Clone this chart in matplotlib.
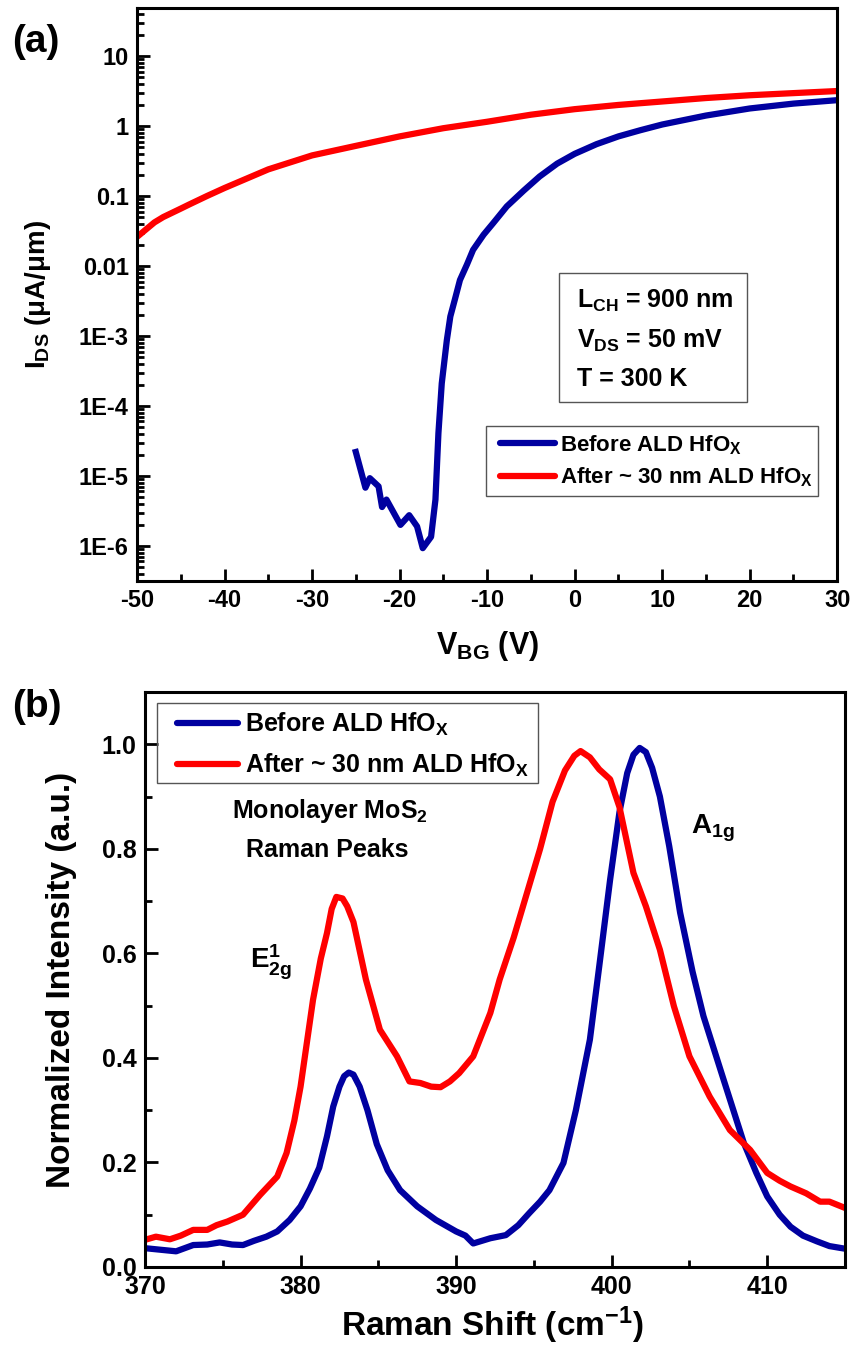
import numpy as np
import matplotlib
matplotlib.use('Agg')
import matplotlib.pyplot as plt
from matplotlib.ticker import FixedLocator, FixedFormatter, LogLocator, MultipleLocator, NullFormatter
from matplotlib.patches import Rectangle

plt.rcParams['font.family'] = ['Liberation Sans', 'DejaVu Sans']
plt.rcParams['font.weight'] = 'bold'
plt.rcParams['axes.unicode_minus'] = False
plt.rcParams['mathtext.fontset'] = 'custom'
plt.rcParams['mathtext.rm'] = 'Liberation Sans:bold'
plt.rcParams['mathtext.it'] = 'Liberation Sans:bold'
plt.rcParams['mathtext.bf'] = 'Liberation Sans:bold'
plt.rcParams['mathtext.default'] = 'rm'

BLUE = '#0000a0'
RED = '#ff0000'

# (a) transfer curves, I_DS in uA/um
vbg_before = [-25, -23.9, -23.4, -22.4, -22.0, -21.5, -19.9, -18.9, -18.0, -17.35, -16.4,
              -15.9, -15.56, -15.18, -14.6, -14.2, -13.66, -13.1, -12.3, -11.6, -10.4, -9.3,
              -7.75, -5.8, -4, -2.0, 0, 2.5, 5, 7.5, 10, 15, 20, 25, 30]
ids_before = [2.2e-5, 6.8e-6, 9.3e-6, 7.1e-6, 3.6e-6, 4.6e-6, 2.0e-6, 2.75e-6, 1.9e-6, 9.3e-7, 1.35e-6,
              4.6e-6, 4.1e-5, 2.1e-4, 8.7e-4, 1.9e-3, 3.4e-3, 6.3e-3, 0.0105, 0.017, 0.028, 0.041,
              0.071, 0.12, 0.19, 0.29, 0.40, 0.55, 0.71, 0.87, 1.05, 1.41, 1.78, 2.09, 2.34]
vbg_after = [-50, -48, -47, -45, -44, -42, -40, -35, -30, -25, -20, -15, -10, -5, 0, 5, 10, 15, 20, 25, 30]
ids_after = [0.026, 0.042, 0.050, 0.066, 0.076, 0.10, 0.13, 0.24, 0.38, 0.52, 0.71, 0.93, 1.15, 1.45,
             1.74, 2.0, 2.24, 2.51, 2.75, 2.95, 3.16]
ids_ticks = [1e-6, 1e-5, 1e-4, 1e-3, 0.01, 0.1, 1, 10]
ids_labels = ['1E-6', '1E-5', '1E-4', '1E-3', '0.01', '0.1', '1', '10']

# (b) Raman spectra
shift_before = [370.0, 371.0, 372.0, 373.1, 374.0, 374.8, 375.6, 376.3, 377.0, 377.8, 378.5, 379.3,
                380.0, 380.6, 381.2, 381.7, 382.1, 382.5, 382.8, 383.1, 383.4, 383.8, 384.3, 384.9,
                385.6, 386.4, 387.5, 388.7, 390.0, 390.6, 391.1, 392.2, 393.2, 394.0, 394.7, 395.4,
                396.0, 396.9, 397.7, 398.6, 399.2, 399.9, 400.5, 401.0, 401.4, 401.8, 402.2, 402.6,
                403.1, 403.7, 404.4, 405.2, 405.9, 407.2, 408.5, 409.3, 410.0, 410.8, 411.5, 412.3,
                413.2, 414.0, 415.0]
int_before = [0.036, 0.033, 0.030, 0.042, 0.043, 0.047, 0.043, 0.042, 0.050, 0.058, 0.068, 0.09,
              0.116, 0.15, 0.19, 0.25, 0.307, 0.345, 0.365, 0.372, 0.368, 0.345, 0.30, 0.235,
              0.185, 0.147, 0.116, 0.09, 0.068, 0.060, 0.045, 0.055, 0.061, 0.08, 0.103, 0.125,
              0.147, 0.199, 0.30, 0.435, 0.575, 0.741, 0.87, 0.945, 0.98, 0.993, 0.985, 0.955,
              0.90, 0.805, 0.678, 0.565, 0.48, 0.358, 0.237, 0.18, 0.135, 0.10, 0.077, 0.06,
              0.049, 0.04, 0.035]
shift_after = [370.0, 370.7, 371.6, 372.3, 373.1, 374.0, 374.6, 375.3, 376.3, 377.4, 378.5, 379.1,
               379.6, 380.0, 380.8, 381.3, 381.7, 382.0, 382.3, 382.7, 383.0, 383.4, 384.2, 385.1,
               386.2, 387.0, 387.7, 388.4, 389.0, 389.6, 390.2, 391.1, 392.2, 392.8, 393.7, 395.0,
               395.4, 396.2, 397.0, 397.6, 398.0, 398.6, 399.2, 399.9, 400.5, 401.4, 402.2, 403.1,
               404.0, 405.0, 406.3, 407.6, 408.9, 410.0, 410.8, 411.5, 412.5, 413.4, 414.0, 415.0]
int_after = [0.052, 0.058, 0.053, 0.06, 0.071, 0.071, 0.08, 0.087, 0.10, 0.138, 0.173, 0.218,
             0.28, 0.345, 0.511, 0.59, 0.639, 0.685, 0.708, 0.705, 0.69, 0.66, 0.55, 0.454,
             0.403, 0.355, 0.352, 0.345, 0.344, 0.355, 0.371, 0.403, 0.486, 0.55, 0.63, 0.76,
             0.80, 0.89, 0.95, 0.978, 0.987, 0.975, 0.952, 0.933, 0.88, 0.754, 0.69, 0.607,
             0.499, 0.403, 0.326, 0.262, 0.224, 0.18, 0.165, 0.154, 0.141, 0.125, 0.125, 0.113]

lab_before = 'Before ALD HfO$_X$'
lab_after = 'After ~ 30 nm ALD HfO$_X$'

fig = plt.figure(figsize=(8.55, 13.59), dpi=100)
ax1 = fig.add_axes([0.1602, 0.5725, 0.819, 0.4216])
ax2 = fig.add_axes([0.1696, 0.0677, 0.8187, 0.4231])

lw = 4.5
ax1.plot(vbg_before, ids_before, color=BLUE, lw=lw, label=lab_before, solid_joinstyle='round')
ax1.plot(vbg_after, ids_after, color=RED, lw=lw, label=lab_after, solid_joinstyle='round')
ax1.set_yscale('log')
ax1.set_xlim(-50, 30)
ax1.set_ylim(3.16e-7, 48.5)
ax1.yaxis.set_major_locator(FixedLocator(ids_ticks))
ax1.yaxis.set_major_formatter(FixedFormatter(ids_labels))
ax1.yaxis.set_minor_locator(LogLocator(base=10, subs=np.arange(2, 10), numticks=20))
ax1.yaxis.set_minor_formatter(NullFormatter())
ax1.xaxis.set_major_locator(MultipleLocator(10))
ax1.xaxis.set_minor_locator(MultipleLocator(5))
ax1.set_xlabel('V$_{BG}$ (V)', fontsize=22, fontweight='bold')
ax1.set_ylabel('I$_{DS}$ (μA/μm)', fontsize=20, fontweight='bold')
ax1.xaxis.set_label_coords(0.5, -0.083)
ax1.yaxis.set_label_coords(-0.12, 0.5)

ax1.add_patch(Rectangle((0.603, 0.312), 0.268, 0.2255, transform=ax1.transAxes,
                        fill=False, edgecolor='#555555', lw=1.0))
for ty, s in [(0.4764, 'L$_{CH}$ = 900 nm'), (0.4066, 'V$_{DS}$ = 50 mV'), (0.340, 'T = 300 K')]:
    ax1.text(0.629, ty, s, transform=ax1.transAxes, fontsize=18, fontweight='bold',
             ha='left', va='baseline')

ax1.add_patch(Rectangle((0.4986, 0.148), 0.4743, 0.1222, transform=ax1.transAxes,
                        fill=False, edgecolor='#555555', lw=1.0, zorder=5))
ax1.legend(loc='upper left', bbox_to_anchor=(0.5186, 0.258), borderaxespad=0,
           fontsize=16, handlelength=2.47, handletextpad=0.22, labelspacing=0.4,
           borderpad=0, frameon=False)

ax2.plot(shift_before, int_before, color=BLUE, lw=lw, label=lab_before, solid_joinstyle='round')
ax2.plot(shift_after, int_after, color=RED, lw=lw, label=lab_after, solid_joinstyle='round')
ax2.set_xlim(370, 415)
ax2.set_ylim(0, 1.1)
ax2.xaxis.set_major_locator(FixedLocator([370, 380, 390, 400, 410]))
ax2.xaxis.set_minor_locator(MultipleLocator(5))
ax2.yaxis.set_major_locator(FixedLocator([0.0, 0.2, 0.4, 0.6, 0.8, 1.0]))
ax2.yaxis.set_major_formatter(FixedFormatter(['0.0', '0.2', '0.4', '0.6', '0.8', '1.0']))
ax2.yaxis.set_minor_locator(MultipleLocator(0.1))
ax2.set_xlabel('Raman Shift (cm$^{-1}$)', fontsize=24, fontweight='bold')
ax2.set_ylabel('Normalized Intensity (a.u.)', fontsize=24, fontweight='bold')
ax2.xaxis.set_label_coords(0.496, -0.066)
ax2.yaxis.set_label_coords(-0.097, 0.5)

ax2.text(381.9, 0.872, 'Monolayer MoS$_2$', fontsize=18, fontweight='bold', ha='center', va='center')
ax2.text(381.7, 0.797, 'Raman Peaks', fontsize=18, fontweight='bold', ha='center', va='center')
ax2.text(376.75, 0.582, '$E_{2g}^{1}$', fontsize=20, ha='left', va='center')
ax2.text(405.1, 0.839, '$A_{1g}$', fontsize=20, ha='left', va='center')

ax2.add_patch(Rectangle((0.0171, 0.8417), 0.5443, 0.1392, transform=ax2.transAxes,
                        fill=False, edgecolor='#555555', lw=1.0, zorder=5))
ax2.legend(loc='upper left', bbox_to_anchor=(0.0457, 0.967), borderaxespad=0,
           fontsize=18, handlelength=2.44, handletextpad=0.28, labelspacing=0.55,
           borderpad=0, frameon=False)

for ax, ls in ((ax1, 17), (ax2, 18)):
    for sp in ax.spines.values():
        sp.set_linewidth(2.2)
    ax.tick_params(which='both', direction='in', top=False, right=False, width=2,
                   labelsize=ls, pad=6)
    ax.tick_params(which='major', length=9)
    ax.tick_params(which='minor', length=5)
    for lbl in ax.get_xticklabels() + ax.get_yticklabels():
        lbl.set_fontweight('bold')
    for t in ax.get_legend().get_texts():
        t.set_fontweight('bold')
    for ln in ax.get_legend().get_lines():
        ln.set_linewidth(lw)
        ln.set_solid_capstyle('round')

fig.text(0.014, 0.969, '(a)', fontsize=28, fontweight='bold', ha='left', va='center')
fig.text(0.014, 0.4798, '(b)', fontsize=28, fontweight='bold', ha='left', va='center')

fig.savefig('out.png', dpi=100)
